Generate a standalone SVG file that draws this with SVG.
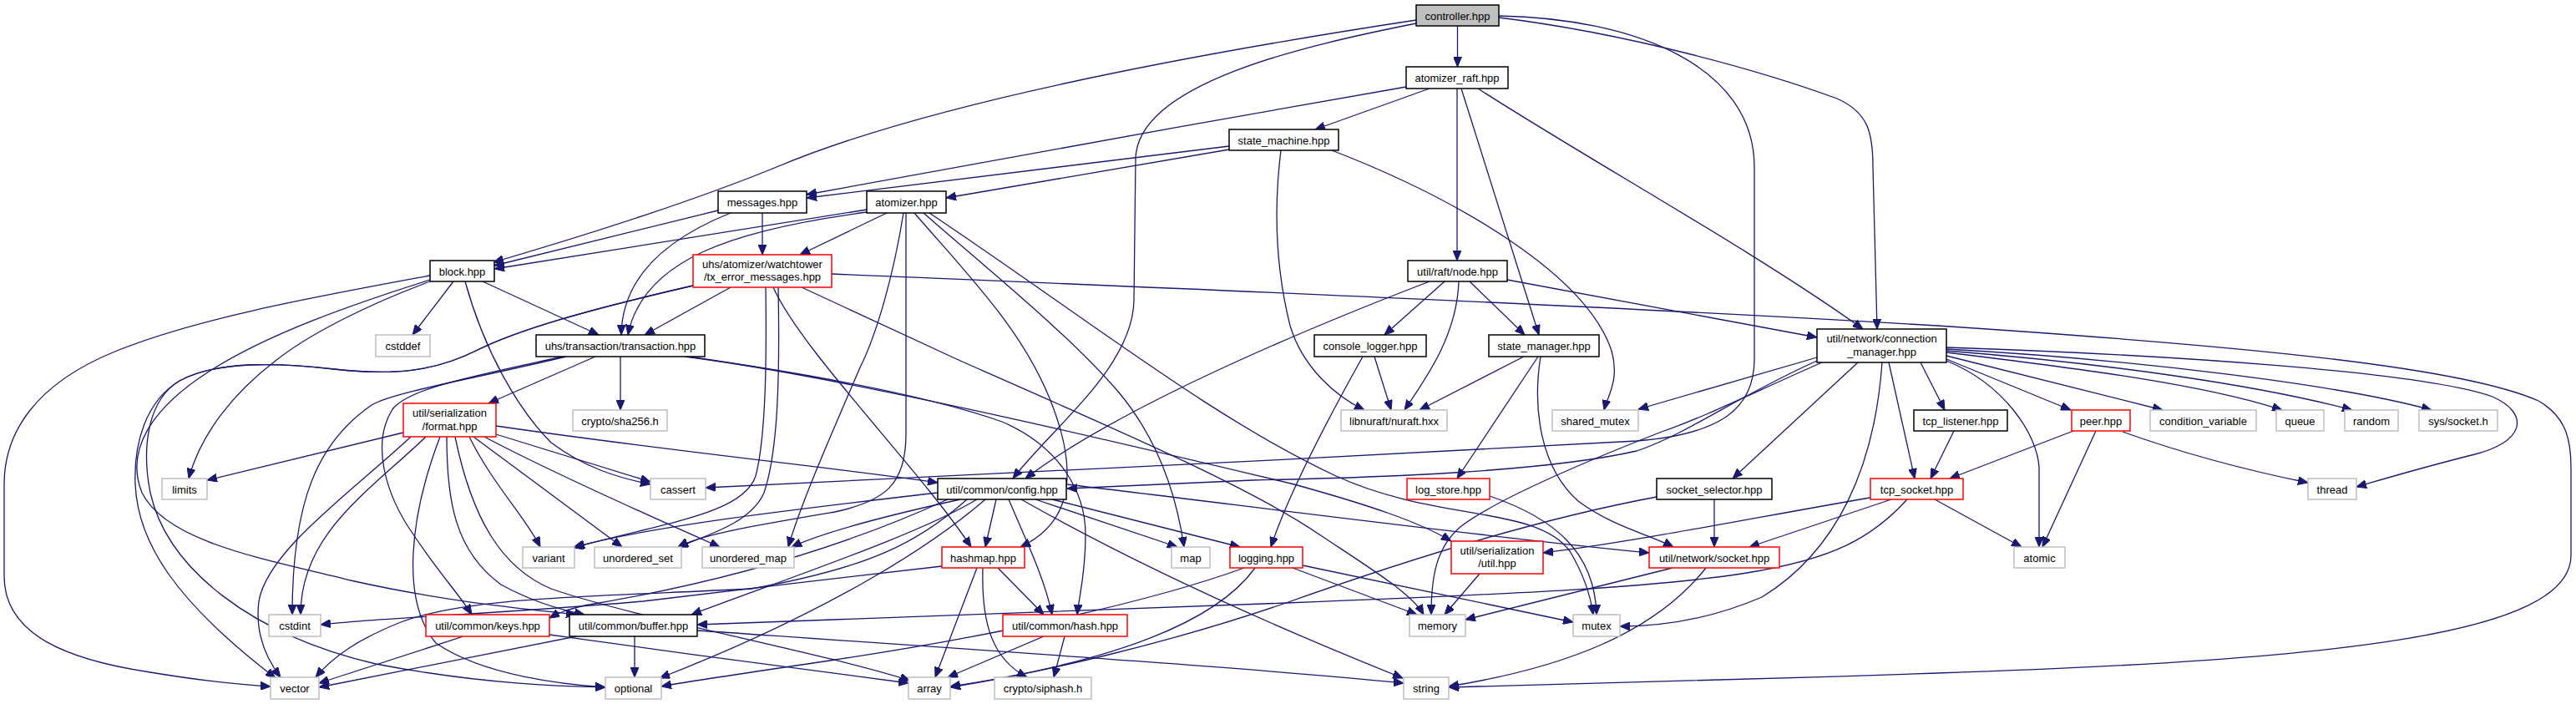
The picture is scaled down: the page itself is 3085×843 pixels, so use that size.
<svg xmlns="http://www.w3.org/2000/svg" width="3085" height="843" viewBox="0 0 3085 843">
<style>
.e{fill:none;stroke:#191970;stroke-width:1.3;marker-end:url(#ah)}
.d{fill:#fff;stroke:#000;stroke-width:1.5}
.r{fill:#fff;stroke:#ff0000;stroke-width:1.5}
.g{fill:#fff;stroke:#bfbfbf;stroke-width:1.5}
.root{fill:#bfbfbf;stroke:#000;stroke-width:1.5}
text{font-family:"Liberation Sans",Arial,sans-serif;font-size:13px;text-anchor:middle;fill:#000}
</style>
<defs>
<marker id="ah" markerWidth="12" markerHeight="10" refX="12" refY="5" orient="auto" markerUnits="userSpaceOnUse">
<path d="M0,0 L12,5 L0,10 z" fill="#191970" stroke="#191970" stroke-width="1"/>
</marker>
</defs>
<rect width="3085" height="843" fill="#fff"/>
<g id="edges">
<path class="e" d="M1745.5,31 L1745.5,80"/>
<path class="e" d="M1696,24 C1460,60 1120,120 930,200 C820,245 690,285 591,314"/>
<path class="e" d="M1696,28 C1560,55 1362,100 1360,190 L1358,360 C1356,440 1262,510 1213,573"/>
<path class="e" d="M1795,19 C1960,22 2101,80 2101,200 L2101,430 C2101,490 2060,520 1960,528 C1600,548 1100,572 845,584"/>
<path class="e" d="M1795,21 C1950,40 2110,85 2200,118 C2238,135 2243,160 2243,200 L2248,394"/>
<path class="e" d="M1684,104 C1450,145 1150,198 966,233"/>
<path class="e" d="M1712,106 L1575,155"/>
<path class="e" d="M1745,106 L1745,312"/>
<path class="e" d="M1750,106 L1843,401"/>
<path class="e" d="M1770,106 C1900,190 2100,300 2231,394"/>
<path class="e" d="M1472,175 L966,237"/>
<path class="e" d="M1472,179 L1133,237"/>
<path class="e" d="M1534,180 C1524,260 1530,330 1545,390 C1560,440 1600,475 1634,491"/>
<path class="e" d="M1595,180 C1750,240 1900,330 1930,420 C1940,455 1925,475 1921,491"/>
<path class="e" d="M860,252 L592,318"/>
<path class="e" d="M913,255 L913,305"/>
<path class="e" d="M875,255 C800,285 745,330 744,401"/>
<path class="e" d="M1038,251 L592,322"/>
<path class="e" d="M1038,254 C880,275 770,310 752,401"/>
<path class="e" d="M1062,255 L958,305"/>
<path class="e" d="M1082,255 C1070,330 1050,400 1030,440 C1000,510 960,600 944,655"/>
<path class="e" d="M1085,255 L1085,520 C1085,580 1060,600 1000,613 C900,630 840,640 812,655"/>
<path class="e" d="M1095,255 C1160,330 1230,400 1262,490 C1295,580 1275,630 1222,655"/>
<path class="e" d="M1106,255 C1180,320 1280,400 1340,470 C1390,530 1410,600 1418,655"/>
<path class="e" d="M1113,255 C1300,380 1450,500 1600,570 C1720,625 1840,605 1880,660 C1898,690 1905,715 1908,736"/>
<path class="e" d="M543,337 L494,401"/>
<path class="e" d="M578,337 L717,401"/>
<path class="e" d="M557,337 C580,420 620,490 660,530 C700,560 740,572 779,580"/>
<path class="e" d="M515,337 C440,365 370,400 330,432 C280,470 240,520 226,573"/>
<path class="e" d="M515,330 C380,355 240,380 140,420 C40,460 5,520 5,580 L5,690 C5,760 80,790 180,805 C240,815 290,820 324,822"/>
<path class="e" d="M515,335 C420,365 320,400 250,445 C180,490 150,540 170,590 C200,650 320,670 420,695 C540,722 640,730 690,736"/>
<path class="e" d="M875,344 L772,401"/>
<path class="e" d="M996,328 C1400,345 1900,365 2320,390 C2700,415 2950,440 3040,480 C3075,500 3079,530 3079,560 L3079,665 C3079,760 2800,790 2320,806 C2100,814 1850,820 1735,823"/>
<path class="e" d="M917,344 C918,420 918,520 905,570 C890,615 800,625 686,656"/>
<path class="e" d="M932,344 C934,450 932,540 915,590 C900,625 850,640 812,655"/>
<path class="e" d="M926,344 C960,420 1100,560 1163,655"/>
<path class="e" d="M960,344 L1150,432 C1350,520 1500,585 1580,640 C1640,680 1690,710 1705,736"/>
<path class="e" d="M830,342 C700,372 620,395 570,420 C520,445 470,450 400,442 C330,434 260,432 215,456 C175,480 160,530 162,580 C165,650 210,720 330,812"/>
<path class="e" d="M830,342 C700,372 620,395 570,420 C520,445 470,450 400,442 C330,434 260,432 215,456 C175,480 170,540 180,590 C200,680 300,760 450,795 C580,820 680,822 725,823"/>
<path class="e" d="M1730,337 L1658,401"/>
<path class="e" d="M1760,337 L1826,401"/>
<path class="e" d="M1747,337 C1745,400 1710,450 1682,491"/>
<path class="e" d="M1805,335 L2176,404"/>
<path class="e" d="M1712,337 C1600,380 1350,480 1228,573"/>
<path class="e" d="M713,427 L585,483"/>
<path class="e" d="M743,427 L743,491"/>
<path class="e" d="M678,427 C560,455 470,470 445,485 C380,530 350,600 350,736"/>
<path class="e" d="M674,427 C560,452 490,465 470,490 C445,530 460,590 495,640 C525,685 550,712 565,736"/>
<path class="e" d="M824,427 C950,445 1100,470 1200,505 C1270,535 1300,590 1300,640 C1300,690 1292,715 1290,736"/>
<path class="e" d="M820,427 C1000,450 1300,520 1550,580 C1640,605 1700,625 1738,648"/>
<path class="e" d="M1646,427 L1666,491"/>
<path class="e" d="M1632,427 C1580,520 1540,600 1522,655"/>
<path class="e" d="M1825,427 L1700,491"/>
<path class="e" d="M1842,427 L1745,573"/>
<path class="e" d="M1845,427 C1835,490 1845,560 1890,600 C1930,630 1975,640 2004,655"/>
<path class="e" d="M2176,428 L1962,490"/>
<path class="e" d="M2176,432 C2080,475 2020,520 1960,540 C1850,565 1650,572 1500,575 L1278,585"/>
<path class="e" d="M2182,434 C2100,470 2040,500 1990,517 C1880,560 1790,600 1750,630 C1720,655 1714,690 1714,736"/>
<path class="e" d="M2225,434 L2075,573"/>
<path class="e" d="M2262,434 L2293,573"/>
<path class="e" d="M2254,434 C2245,560 2200,660 2110,715 C2040,745 1980,750 1940,750"/>
<path class="e" d="M2300,434 L2329,491"/>
<path class="e" d="M2331,430 L2480,491"/>
<path class="e" d="M2331,426 L2590,491"/>
<path class="e" d="M2331,422 C2480,440 2640,460 2733,491"/>
<path class="e" d="M2331,420 C2520,435 2700,460 2817,491"/>
<path class="e" d="M2331,418 C2550,430 2800,460 2912,491"/>
<path class="e" d="M2331,416 C2600,425 2900,445 2985,475 C3030,495 3025,530 2960,545 C2900,560 2860,572 2822,583"/>
<path class="e" d="M2331,432 C2400,460 2440,520 2442,560 L2442,655"/>
<path class="e" d="M483,518 L248,575"/>
<path class="e" d="M594,520 L779,577"/>
<path class="e" d="M594,510 C800,540 1000,560 1123,578"/>
<path class="e" d="M562,523 C590,580 630,620 647,655"/>
<path class="e" d="M567,523 L745,655"/>
<path class="e" d="M580,523 C650,560 760,610 862,655"/>
<path class="e" d="M492,523 C420,590 320,660 310,720 C305,760 320,790 336,811"/>
<path class="e" d="M510,523 C440,590 360,640 360,736"/>
<path class="e" d="M527,523 C490,620 480,720 522,770 C580,810 680,820 725,823"/>
<path class="e" d="M535,523 C535,600 545,660 600,700 C640,722 680,732 700,736"/>
<path class="e" d="M545,523 C565,620 600,680 660,705 C760,740 980,780 1090,815"/>
<path class="e" d="M1123,590 C950,610 780,630 688,655"/>
<path class="e" d="M1150,598 C1050,620 980,640 948,655"/>
<path class="e" d="M1158,598 C1100,650 1040,680 900,705 C700,715 560,715 480,745 C430,765 400,785 378,811"/>
<path class="e" d="M1170,598 C1100,640 950,690 828,736"/>
<path class="e" d="M1180,598 C1120,650 1000,730 790,812"/>
<path class="e" d="M1193,598 L1180,655"/>
<path class="e" d="M1208,598 C1230,650 1250,690 1260,736"/>
<path class="e" d="M1223,598 C1350,670 1500,740 1680,812"/>
<path class="e" d="M1240,598 L1410,655"/>
<path class="e" d="M1260,598 L1485,655"/>
<path class="e" d="M1277,580 C1450,600 1750,640 1975,662"/>
<path class="e" d="M1135,598 C1000,660 850,700 700,725 C680,730 670,733 658,740"/>
<path class="e" d="M1195,680 L1250,736"/>
<path class="e" d="M1170,680 L1120,811"/>
<path class="e" d="M1177,680 C1175,750 1190,790 1230,811"/>
<path class="e" d="M1128,678 C1000,692 900,705 770,720 C600,735 450,740 384,748"/>
<path class="e" d="M1250,762 L1135,811"/>
<path class="e" d="M1275,762 L1262,811"/>
<path class="e" d="M555,762 L382,818"/>
<path class="e" d="M658,760 C800,780 950,800 1088,818"/>
<path class="e" d="M690,762 L382,823"/>
<path class="e" d="M760,762 L760,811"/>
<path class="e" d="M835,755 C1200,780 1500,800 1681,818"/>
<path class="e" d="M1548,680 L1697,736"/>
<path class="e" d="M1560,677 L1884,745"/>
<path class="e" d="M1503,680 C1460,740 1350,790 1138,822"/>
<path class="e" d="M1490,680 C1380,720 1200,760 1000,790 C900,805 830,815 792,822"/>
<path class="e" d="M1772,687 L1730,736"/>
<path class="e" d="M2003,680 L1755,742"/>
<path class="e" d="M2043,680 C1980,760 1870,800 1735,822"/>
<path class="e" d="M2053,598 L2053,655"/>
<path class="e" d="M1984,595 C1850,620 1700,665 1540,722 C1400,770 1250,805 1138,823"/>
<path class="e" d="M1784,594 C1860,620 1910,660 1912,736"/>
<path class="e" d="M2340,516 L2312,573"/>
<path class="e" d="M2483,516 L2335,573"/>
<path class="e" d="M2510,516 L2446,655"/>
<path class="e" d="M2542,517 C2620,545 2700,565 2764,578"/>
<path class="e" d="M2265,598 L2095,655"/>
<path class="e" d="M2245,595 C2100,620 1950,650 1848,662"/>
<path class="e" d="M2317,598 L2421,655"/>
<path class="e" d="M2284,598 C2200,690 2100,700 1540,722 C1200,735 1000,742 835,748"/>
</g>
<g id="n-controller"><rect class="root" x="1696" y="6" width="99" height="25"/><text x="1745.5" y="23.5">controller.hpp</text></g>
<g id="n-atomizer_raft"><rect class="d" x="1684" y="80" width="122" height="26"/><text x="1745" y="98">atomizer_raft.hpp</text></g>
<g id="n-state_machine"><rect class="d" x="1472" y="155" width="131" height="25"/><text x="1537.5" y="172.5">state_machine.hpp</text></g>
<g id="n-messages"><rect class="d" x="860" y="229" width="106" height="26"/><text x="913" y="247">messages.hpp</text></g>
<g id="n-atomizer"><rect class="d" x="1038" y="229" width="95" height="26"/><text x="1085.5" y="247">atomizer.hpp</text></g>
<g id="n-block"><rect class="d" x="515" y="312" width="77" height="25"/><text x="553.5" y="329.5">block.hpp</text></g>
<g id="n-tx_error"><rect class="r" x="830" y="305" width="166" height="39"/><text x="913" y="321">uhs/atomizer/watchtower</text><text x="913" y="336">/tx_error_messages.hpp</text></g>
<g id="n-node"><rect class="d" x="1686" y="312" width="119" height="25"/><text x="1745.5" y="329.5">util/raft/node.hpp</text></g>
<g id="n-cstddef"><rect class="g" x="450" y="401" width="65" height="26"/><text x="482.5" y="419">cstddef</text></g>
<g id="n-transaction"><rect class="d" x="642" y="401" width="202" height="26"/><text x="743" y="419">uhs/transaction/transaction.hpp</text></g>
<g id="n-console_logger"><rect class="d" x="1574" y="401" width="134" height="26"/><text x="1641" y="419">console_logger.hpp</text></g>
<g id="n-state_manager"><rect class="d" x="1783" y="401" width="132" height="26"/><text x="1849" y="419">state_manager.hpp</text></g>
<g id="n-connection_manager"><rect class="d" x="2176" y="394" width="155" height="40"/><text x="2253.5" y="410">util/network/connection</text><text x="2253.5" y="426">_manager.hpp</text></g>
<g id="n-format"><rect class="r" x="483" y="483" width="111" height="40"/><text x="538.5" y="499">util/serialization</text><text x="538.5" y="515">/format.hpp</text></g>
<g id="n-sha256"><rect class="g" x="686" y="491" width="113" height="25"/><text x="742.5" y="508.5">crypto/sha256.h</text></g>
<g id="n-nuraft"><rect class="g" x="1606" y="491" width="127" height="25"/><text x="1669.5" y="508.5">libnuraft/nuraft.hxx</text></g>
<g id="n-shared_mutex"><rect class="g" x="1859" y="491" width="103" height="25"/><text x="1910.5" y="508.5">shared_mutex</text></g>
<g id="n-tcp_listener"><rect class="d" x="2292" y="491" width="112" height="25"/><text x="2348" y="508.5">tcp_listener.hpp</text></g>
<g id="n-peer"><rect class="r" x="2481" y="491" width="70" height="25"/><text x="2516" y="508.5">peer.hpp</text></g>
<g id="n-condition_variable"><rect class="g" x="2575" y="491" width="127" height="25"/><text x="2638.5" y="508.5">condition_variable</text></g>
<g id="n-queue"><rect class="g" x="2726" y="491" width="57" height="25"/><text x="2754.5" y="508.5">queue</text></g>
<g id="n-random"><rect class="g" x="2808" y="491" width="64" height="25"/><text x="2840" y="508.5">random</text></g>
<g id="n-sys_socket"><rect class="g" x="2897" y="491" width="94" height="25"/><text x="2944" y="508.5">sys/socket.h</text></g>
<g id="n-limits"><rect class="g" x="194" y="573" width="54" height="25"/><text x="221" y="590.5">limits</text></g>
<g id="n-cassert"><rect class="g" x="779" y="573" width="66" height="25"/><text x="812" y="590.5">cassert</text></g>
<g id="n-config"><rect class="d" x="1123" y="573" width="154" height="25"/><text x="1200" y="590.5">util/common/config.hpp</text></g>
<g id="n-log_store"><rect class="r" x="1685" y="573" width="99" height="25"/><text x="1734.5" y="590.5">log_store.hpp</text></g>
<g id="n-socket_selector"><rect class="d" x="1984" y="573" width="138" height="25"/><text x="2053" y="590.5">socket_selector.hpp</text></g>
<g id="n-tcp_socket"><rect class="r" x="2240" y="573" width="111" height="25"/><text x="2295.5" y="590.5">tcp_socket.hpp</text></g>
<g id="n-thread"><rect class="g" x="2764" y="573" width="58" height="25"/><text x="2793" y="590.5">thread</text></g>
<g id="n-variant"><rect class="g" x="626" y="655" width="62" height="25"/><text x="657" y="672.5">variant</text></g>
<g id="n-unordered_set"><rect class="g" x="712" y="655" width="104" height="25"/><text x="764" y="672.5">unordered_set</text></g>
<g id="n-unordered_map"><rect class="g" x="841" y="655" width="110" height="25"/><text x="896" y="672.5">unordered_map</text></g>
<g id="n-hashmap"><rect class="r" x="1128" y="655" width="99" height="25"/><text x="1177.5" y="672.5">hashmap.hpp</text></g>
<g id="n-map"><rect class="g" x="1403" y="655" width="46" height="25"/><text x="1426" y="672.5">map</text></g>
<g id="n-logging"><rect class="r" x="1473" y="655" width="87" height="25"/><text x="1516.5" y="672.5">logging.hpp</text></g>
<g id="n-ser_util"><rect class="r" x="1738" y="648" width="110" height="39"/><text x="1793" y="664">util/serialization</text><text x="1793" y="679">/util.hpp</text></g>
<g id="n-socket"><rect class="r" x="1975" y="655" width="156" height="25"/><text x="2053" y="672.5">util/network/socket.hpp</text></g>
<g id="n-atomic"><rect class="g" x="2412" y="655" width="61" height="25"/><text x="2442.5" y="672.5">atomic</text></g>
<g id="n-cstdint"><rect class="g" x="322" y="736" width="62" height="26"/><text x="353" y="754">cstdint</text></g>
<g id="n-keys"><rect class="r" x="510" y="736" width="148" height="26"/><text x="584" y="754">util/common/keys.hpp</text></g>
<g id="n-buffer"><rect class="d" x="682" y="736" width="153" height="26"/><text x="758.5" y="754">util/common/buffer.hpp</text></g>
<g id="n-hash"><rect class="r" x="1201" y="736" width="149" height="26"/><text x="1275.5" y="754">util/common/hash.hpp</text></g>
<g id="n-memory"><rect class="g" x="1688" y="736" width="67" height="26"/><text x="1721.5" y="754">memory</text></g>
<g id="n-mutex"><rect class="g" x="1884" y="736" width="56" height="26"/><text x="1912" y="754">mutex</text></g>
<g id="n-vector"><rect class="g" x="324" y="811" width="58" height="26"/><text x="353" y="829">vector</text></g>
<g id="n-optional"><rect class="g" x="725" y="811" width="67" height="26"/><text x="758.5" y="829">optional</text></g>
<g id="n-array"><rect class="g" x="1088" y="811" width="50" height="26"/><text x="1113" y="829">array</text></g>
<g id="n-siphash"><rect class="g" x="1191" y="811" width="116" height="26"/><text x="1249" y="829">crypto/siphash.h</text></g>
<g id="n-string"><rect class="g" x="1681" y="811" width="54" height="26"/><text x="1708" y="829">string</text></g>
</svg>
